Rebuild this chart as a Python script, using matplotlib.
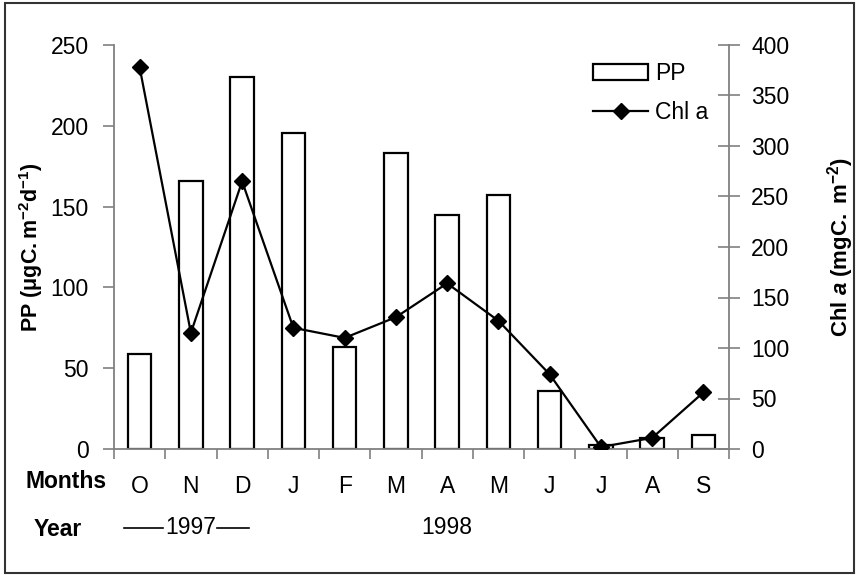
import numpy as np
import matplotlib
matplotlib.use('Agg')
import matplotlib.pyplot as plt
from matplotlib.patches import Rectangle
from matplotlib.lines import Line2D
from matplotlib.transforms import blended_transform_factory

# data
months = ['O', 'N', 'D', 'J', 'F', 'M', 'A', 'M', 'J', 'J', 'A', 'S']
pp = [59, 166, 230, 195.5, 63, 183, 144.5, 157, 36, 2.5, 7, 8.7]
chl_a = [378, 115, 265, 120, 110, 130.5, 164, 127, 74, 2, 11, 56]

plt.rcParams['font.family'] = ['Liberation Sans', 'DejaVu Sans']
plt.rcParams['mathtext.fontset'] = 'custom'
plt.rcParams['mathtext.rm'] = 'Liberation Sans'
plt.rcParams['mathtext.it'] = 'Liberation Sans:italic'
plt.rcParams['mathtext.bf'] = 'Liberation Sans:bold'
plt.rcParams['mathtext.bfit'] = 'Liberation Sans:italic:bold'

grey = '#808080'
fs = 16.5

fig = plt.figure(figsize=(8.57, 5.75), dpi=100)
ax = fig.add_axes([114 / 857, 1 - 449 / 575, 615 / 857, 404 / 575])
ax2 = ax.twinx()

x = np.arange(len(months))
bars = ax.bar(x, pp, width=0.46, color='white', edgecolor='black', linewidth=1.6, zorder=2)
ax.set_ylim(0, 250)
ax.set_xlim(-0.5, 11.5)
ax.set_yticks(np.arange(0, 251, 50))

line, = ax2.plot(x, chl_a, color='black', linewidth=1.6, marker='D', markersize=8.5, zorder=3)
ax2.set_ylim(0, 400)
ax2.set_yticks(np.arange(0, 401, 50))
ax.set_zorder(ax2.get_zorder() - 1)
ax2.patch.set_visible(False)

for a in (ax, ax2):
    a.spines['top'].set_visible(False)
    for s in ('left', 'right', 'bottom'):
        a.spines[s].set_color(grey)
        a.spines[s].set_linewidth(1.3)
ax.spines['right'].set_visible(False)
ax2.spines['left'].set_visible(False)
ax2.spines['bottom'].set_visible(False)

ax.tick_params(axis='y', direction='out', length=8, width=1.2, color=grey, labelsize=fs, pad=10)
ax2.tick_params(axis='y', direction='inout', length=16, width=1.2, color=grey, labelsize=fs, pad=8)

# boundaries as major ticks, month labels at the minor ticks
ax.set_xticks(np.arange(-0.5, 12, 1))
ax.set_xticklabels([])
ax.set_xticks(x, minor=True)
ax.set_xticklabels(months, minor=True)
ax.tick_params(axis='x', which='major', direction='out', length=7, width=1.2, color=grey)
ax.tick_params(axis='x', which='minor', length=0, labelsize=fs, pad=19)

ax.set_ylabel(r'$\mathbf{PP\ (\mu gC.m^{-2}d^{-1})}$', fontsize=15.5, labelpad=4)
ax2.set_ylabel(r'$\mathbf{Chl}$ $\mathbfit{a}$ $\mathbf{(mgC.\ m^{-2})}$', fontsize=16, labelpad=26)

# row titles and year labels under the axis
fig.text(66 / 857, 1 - 481 / 575, 'Months', fontsize=fs, fontweight='bold', ha='center', va='center')
fig.text(58 / 857, 1 - 529 / 575, 'Year', fontsize=fs, fontweight='bold', ha='center', va='center')
trans = blended_transform_factory(ax.transData, fig.transFigure)
ax.text(1, 1 - 528 / 575, '1997', transform=trans, fontsize=fs, ha='center', va='center')
ax.text(6, 1 - 528 / 575, '1998', transform=trans, fontsize=fs, ha='center', va='center')
for x0, x1 in [(-0.31, 0.45), (1.5, 2.13)]:
    fig.add_artist(Line2D([x0, x1], [1 - 528 / 575] * 2, transform=trans, color='black', linewidth=1.2))

leg = ax2.legend([bars, line], ['PP', 'Chl a'], loc='upper right', bbox_to_anchor=(1.0, 1.01),
                 frameon=False, fontsize=fs, handlelength=2.4, handletextpad=0.3, labelspacing=0.7)

# outer frame
fig.add_artist(Rectangle((5 / 857, 2 / 575), 849 / 857, 570 / 575, transform=fig.transFigure,
                         fill=False, edgecolor='#333333', linewidth=1.5))

fig.savefig('out.png', dpi=100)
